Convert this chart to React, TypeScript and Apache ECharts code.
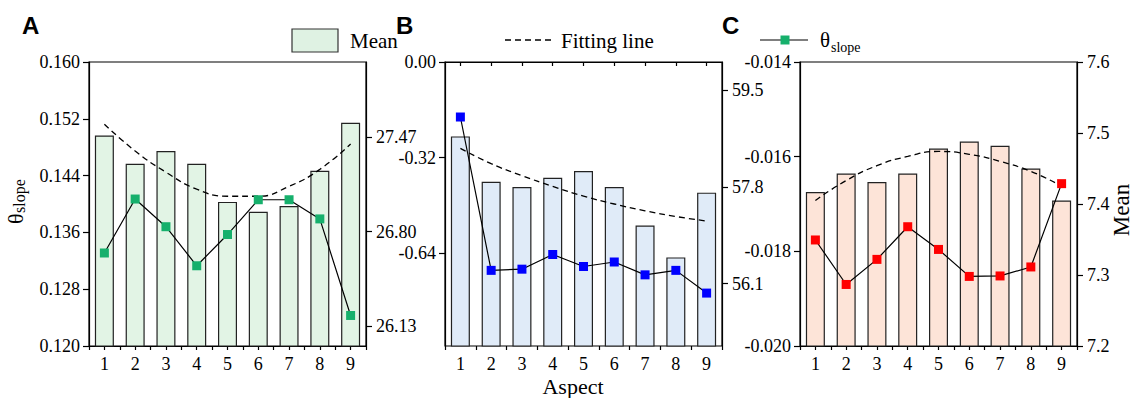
import React, { useEffect, useRef } from "react";
import * as echarts from "echarts";

// ---------- data ----------
const aspects = ["1", "2", "3", "4", "5", "6", "7", "8", "9"];

// Panel A
const meanA = [27.48, 27.28, 27.37, 27.28, 27.01, 26.94, 26.98, 27.23, 27.57];
const thetaA = [0.1331, 0.1407, 0.1368, 0.1313, 0.1357, 0.1406, 0.1406, 0.1379, 0.1243];
const fitA = [27.56, 27.37, 27.22, 27.1, 27.05, 27.05, 27.12, 27.24, 27.42];
const leftTicksA = [0.12, 0.128, 0.136, 0.144, 0.152, 0.16];
const rightTicksA = [26.13, 26.8, 27.47];

// Panel B
const meanB = [58.69, 57.89, 57.8, 57.96, 58.08, 57.8, 57.12, 56.56, 57.7];
const thetaB = [-0.184, -0.697, -0.693, -0.644, -0.684, -0.669, -0.712, -0.697, -0.773];
const fitB = [58.48, 58.21, 58.0, 57.81, 57.64, 57.5, 57.38, 57.28, 57.2];
const leftTicksB = [-0.64, -0.32, 0.0];
const rightTicksB = [56.1, 57.8, 59.5];

// Panel C
const meanC = [7.417, 7.443, 7.431, 7.443, 7.478, 7.488, 7.482, 7.45, 7.405];
const thetaC = [-0.01776, -0.0187, -0.01817, -0.01748, -0.01796, -0.01853, -0.01852, -0.01833, -0.01657];
const fitC = [7.405, 7.433, 7.454, 7.467, 7.474, 7.47, 7.46, 7.446, 7.425];
const leftTicksC = [-0.02, -0.018, -0.016, -0.014];
const rightTicksC = [7.2, 7.3, 7.4, 7.5, 7.6];

const serif = "Liberation Serif";
const sans = "Liberation Sans";

const panels = [
  {
    left: 89, mean: meanA, theta: thetaA, fit: fitA,
    bar: "#e2f4e5", marker: "#16b06c",
    lMin: 0.12, lMax: 0.16, lTicks: leftTicksA, lDig: 3, lStep: 0.008,
    rMin: 25.99, rMax: 28.0, rTicks: rightTicksA, rDig: 2, rStep: 0.01,
  },
  {
    left: 445, mean: meanB, theta: thetaB, fit: fitB,
    bar: "#e0ebf8", marker: "#0000ff",
    lMin: -0.95, lMax: 0, lTicks: leftTicksB, lDig: 2, lStep: 0.01,
    rMin: 55, rMax: 60, rTicks: rightTicksB, rDig: 1, rStep: 0.1,
  },
  {
    left: 800, mean: meanC, theta: thetaC, fit: fitC,
    bar: "#fde4d8", marker: "#ff0000",
    lMin: -0.02, lMax: -0.014, lTicks: leftTicksC, lDig: 3, lStep: 0.002,
    rMin: 7.2, rMax: 7.6, rTicks: rightTicksC, rDig: 1, rStep: 0.1,
  },
];

const TOP = 62;
const W = 277;
const H = 284;

const pick = (ticks: number[], step: number, digits: number) => (v: number) => {
  const t = ticks.find((k) => Math.abs(k - v) < step / 2);
  return t === undefined ? "" : t.toFixed(digits);
};

export default function App() {
  const ref = useRef<HTMLDivElement>(null);

  useEffect(() => {
    if (!ref.current) return;
    const chart = echarts.init(ref.current, undefined, { renderer: "svg" });

    const grids: any[] = [];
    const xAxes: any[] = [];
    const yAxes: any[] = [];
    const series: any[] = [];
    const labelStyle = { color: "#000", fontFamily: serif, fontSize: 18 };
    const axisLine = { show: true, lineStyle: { color: "#000", width: 1.2 } };

    panels.forEach((p, i) => {
      grids.push({
        left: p.left, top: TOP, width: W, height: H,
        show: true, borderColor: "#000", borderWidth: 1.2, backgroundColor: "transparent",
      });
      xAxes.push({
        type: "category", gridIndex: i, data: aspects, position: "bottom",
        axisLine,
        axisTick: { show: true, alignWithLabel: true, length: 4, lineStyle: { color: "#000", width: 1.2 } },
        axisLabel: { ...labelStyle, margin: 9, interval: 0 },
        splitLine: { show: false },
      });
      xAxes.push({
        type: "category", gridIndex: i, data: aspects, position: "bottom",
        axisLine: { show: false },
        axisTick: { show: true, interval: 0, alignWithLabel: false, length: 4, lineStyle: { color: "#000", width: 1.2 } },
        axisLabel: { show: false },
        splitLine: { show: false },
      });
      yAxes.push({
        type: "value", gridIndex: i, position: "left", min: p.lMin, max: p.lMax, interval: p.lStep,
        axisLine,
        axisTick: { show: true, length: 6, customValues: p.lTicks, lineStyle: { color: "#000", width: 1.2 } },
        axisLabel: { ...labelStyle, margin: 9, showMinLabel: true, showMaxLabel: true, formatter: pick(p.lTicks, p.lStep, p.lDig) },
        splitLine: { show: false },
      });
      yAxes.push({
        type: "value", gridIndex: i, position: "right", min: p.rMin, max: p.rMax, interval: p.rStep,
        axisLine,
        axisTick: { show: true, length: 6, customValues: p.rTicks, lineStyle: { color: "#000", width: 1.2 } },
        axisLabel: { ...labelStyle, margin: 10, showMinLabel: true, showMaxLabel: true, formatter: pick(p.rTicks, p.rStep, p.rDig) },
        splitLine: { show: false },
      });
      series.push({
        type: "bar", xAxisIndex: i * 2, yAxisIndex: i * 2 + 1, data: p.mean,
        barWidth: 19,
        itemStyle: { color: p.bar, borderColor: "#222", borderWidth: 1.2 },
        silent: true,
      });
      series.push({
        type: "line", xAxisIndex: i * 2, yAxisIndex: i * 2 + 1, data: p.fit,
        smooth: true, showSymbol: false, symbol: "none",
        lineStyle: { color: "#000", width: 1.3, type: [6, 4] },
        silent: true,
      });
      series.push({
        type: "line", xAxisIndex: i * 2, yAxisIndex: i * 2, data: p.theta,
        symbol: "rect", symbolSize: 9,
        itemStyle: { color: p.marker },
        lineStyle: { color: "#000", width: 1.2 },
        silent: true,
      });
    });

    const txt = (size: number, family: string, weight = "normal") => ({
      fontSize: size, fontFamily: family, fontWeight: weight, fill: "#000",
    });

    const graphic: any[] = [
      // panel letters
      { type: "text", x: 22, y: 25, style: { text: "A", ...txt(24, sans, "bold"), verticalAlign: "middle" } },
      { type: "text", x: 396, y: 25, style: { text: "B", ...txt(24, sans, "bold"), verticalAlign: "middle" } },
      { type: "text", x: 722, y: 25, style: { text: "C", ...txt(24, sans, "bold"), verticalAlign: "middle" } },
      // legend: Mean
      { type: "rect", shape: { x: 292, y: 29, width: 46, height: 23 }, style: { fill: "#dff2e3", stroke: "#333", lineWidth: 1.2 } },
      { type: "text", x: 350, y: 41, style: { text: "Mean", ...txt(21, serif), verticalAlign: "middle" } },
      // legend: Fitting line
      { type: "line", shape: { x1: 505, y1: 40, x2: 553, y2: 40 }, style: { stroke: "#000", lineWidth: 1.3, lineDash: [6, 4] } },
      { type: "text", x: 561, y: 41, style: { text: "Fitting line", ...txt(21, serif), verticalAlign: "middle" } },
      // legend: theta slope
      { type: "line", shape: { x1: 760, y1: 40, x2: 808, y2: 40 }, style: { stroke: "#000", lineWidth: 1.2 } },
      { type: "rect", shape: { x: 780.5, y: 35.5, width: 9, height: 9 }, style: { fill: "#16b06c" } },
      { type: "text", x: 820, y: 40, style: { text: "θ", ...txt(21, serif), verticalAlign: "middle" } },
      { type: "text", x: 831, y: 47, style: { text: "slope", ...txt(14, serif), verticalAlign: "middle" } },
      // y axis name left (θslope)
      {
        type: "group", x: 15, y: 197, rotation: Math.PI / 2,
        children: [
          { type: "text", x: -27, y: 0, style: { text: "θ", ...txt(22, serif), verticalAlign: "middle" } },
          { type: "text", x: -16, y: 4, style: { text: "slope", ...txt(16, serif), verticalAlign: "middle" } },
        ],
      },
      // y axis name right (Mean)
      {
        type: "text", x: 1121, y: 210, rotation: Math.PI / 2,
        style: { text: "Mean", ...txt(23, serif), align: "center", verticalAlign: "middle" },
      },
      // x axis name
      {
        type: "text", x: 573, y: 386.5,
        style: { text: "Aspect", ...txt(22, serif), align: "center", verticalAlign: "middle" },
      },
    ];

    chart.setOption({
      animation: false,
      backgroundColor: "#fff",
      textStyle: { fontFamily: serif, fontSize: 18, color: "#000" },
      grid: grids,
      xAxis: xAxes,
      yAxis: yAxes,
      series,
      graphic,
    });

    return () => chart.dispose();
  }, []);

  return (
    <div
      ref={ref}
      style={{ position: "fixed", left: 0, top: 0, width: 1136, height: 398, background: "#fff" }}
    />
  );
}
